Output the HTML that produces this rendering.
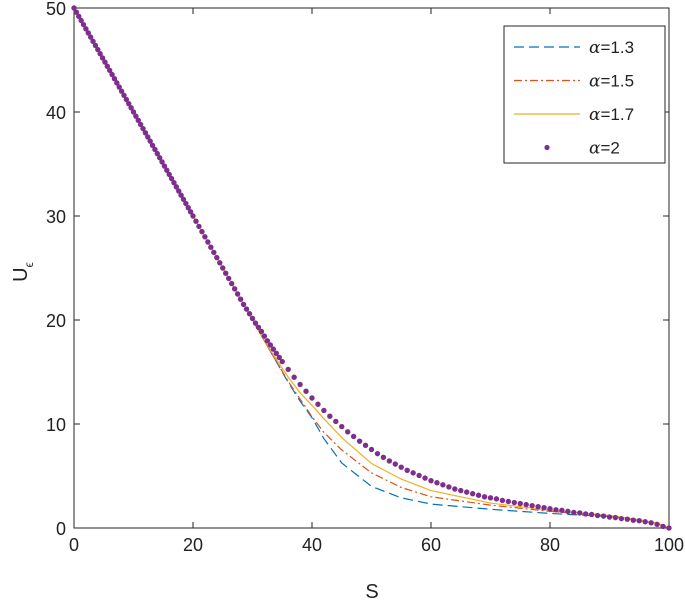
<!DOCTYPE html>
<html><head><meta charset="utf-8"><style>
body{margin:0;background:#fff}
text{font-family:"Liberation Sans",Arial,sans-serif;fill:#222}
</style></head><body>
<svg id="chart" width="685" height="604" xmlns="http://www.w3.org/2000/svg">
<g id="plot"></g>
</svg>
<script>
const sPts=[0,10,20,30,33,36,38,40,42,45,50,55,60,70,80,90,95,98,100];
const u13=[50,40,30,20,17,14,12.2,10.6,8.6,6.25,4.0,2.9,2.3,1.8,1.4,1.1,0.75,0.45,0];
const u15=[50,40,30,20,17,14.1,12.4,10.7,9.2,7.5,5.3,3.9,3.0,2.2,1.6,1.15,0.75,0.45,0];
const u17=[50,40,30,20,17.1,14.5,13.0,11.8,10.5,8.7,6.2,4.7,3.6,2.4,1.7,1.2,0.8,0.45,0];
const s2=[0,0.4,0.8,1.2,1.6,2,2.4,2.8,3.2,3.6,4,4.4,4.8,5.2,5.6,6,6.4,6.8,7.2,7.6,8,8.4,8.8,9.2,9.6,10,10.4,10.8,11.2,11.6,12,12.4,12.8,13.2,13.6,14,14.4,14.8,15.2,15.6,16,16.4,16.8,17.2,17.6,18,18.4,18.8,19.2,19.6,20,20.5,21,21.5,22,22.5,23,23.5,24,24.5,25,25.5,26,26.5,27,27.5,28,28.5,29,29.5,30,30.5,31,31.5,32,32.5,33,33.5,34,34.5,35,36,37,38,39,40,41,42,43,44,45,46,47,48,49,50,51,52,53,54,55,56,57,58,59,60,61,62,63,64,65,66,67,68,69,70,71,72,73,74,75,76,77,78,79,80,81,82,83,84,85,86,87,88,89,90,91,92,93,94,95,96,97,98,99,100];
const u2=[50,49.6,49.2,48.8,48.4,48,47.6,47.2,46.8,46.4,46,45.6,45.2,44.8,44.4,44,43.6,43.2,42.8,42.4,42,41.6,41.2,40.8,40.4,40,39.6,39.2,38.8,38.4,38,37.6,37.2,36.8,36.4,36,35.6,35.2,34.8,34.4,34,33.6,33.2,32.8,32.4,32,31.6,31.2,30.8,30.4,30,29.5,29,28.5,28,27.5,27,26.5,26,25.5,25,24.5,24,23.5,23,22.5,22,21.5,21.05,20.6,20.15,19.7,19.3,18.9,18.45,18.0,17.6,17.2,16.8,16.4,16.0,15.25,14.5,13.8,13.15,12.5,11.9,11.3,10.75,10.25,9.75,9.25,8.8,8.35,7.95,7.55,7.15,6.8,6.45,6.15,5.85,5.55,5.3,5.05,4.8,4.55,4.35,4.15,3.95,3.75,3.6,3.45,3.3,3.15,3.0,2.9,2.8,2.65,2.55,2.45,2.35,2.25,2.15,2.05,1.95,1.85,1.75,1.7,1.6,1.5,1.45,1.35,1.3,1.2,1.15,1.05,1.0,0.9,0.85,0.75,0.7,0.6,0.5,0.35,0.15,0];
const xTicks=[0,20,40,60,80,100];
const yTicks=[0,10,20,30,40,50];
const legendLabels=["1.3","1.5","1.7","2"];

const L=74,R=669,T=8,B=528;
const xs=v=>L+(v-0)/(100)*(R-L);
const ys=v=>B-(v/50)*(B-T);
const NS="http://www.w3.org/2000/svg";
const g=document.getElementById('plot');
function el(tag,attrs,parent){const e=document.createElementNS(NS,tag);for(const k in attrs)e.setAttribute(k,attrs[k]);(parent||g).appendChild(e);return e;}

const frame=el('rect',{x:L,y:T,width:R-L,height:B-T,fill:'none',stroke:'#262626','stroke-width':1});


xTicks.forEach(v=>{
  const x=xs(v);
  const t=el('line',{x1:x,x2:x,y1:B,y2:B-6,stroke:'#262626'});
  
  
  el('line',{x1:x,x2:x,y1:T,y2:T+6,stroke:'#262626'});
  const tx=el('text',{x:x,y:B+23,'text-anchor':'middle','font-size':18});
  tx.textContent=v;
  
  
});
yTicks.forEach(v=>{
  const y=ys(v);
  const t=el('line',{x1:L,x2:L+6,y1:y,y2:y,stroke:'#262626'});
  
  
  el('line',{x1:R,x2:R-6,y1:y,y2:y,stroke:'#262626'});
  const tx=el('text',{x:L-8,y:y+7,'text-anchor':'end','font-size':18});
  tx.textContent=v;
  
  
});
const xl=el('text',{x:372,y:598,'text-anchor':'middle','font-size':20});
xl.textContent='S';


const yl=el('text',{transform:'translate(27,272) rotate(-90)','text-anchor':'middle','font-size':20});
yl.innerHTML='U<tspan font-size="12" dy="6">ϵ</tspan>';



function pathD(xv,yv){return xv.map((v,i)=>(i?'L':'M')+xs(v).toFixed(2)+','+ys(yv[i]).toFixed(2)).join('');}
const styles=[
 {c:'#0072BD',d:'10,5',name:'line-alpha-1.3',data:u13},
 {c:'#D95319',d:'8,3,2,3',name:'line-alpha-1.5',data:u15},
 {c:'#EDB120',d:'',name:'line-alpha-1.7',data:u17}];
styles.forEach(s=>{
  const p=el('path',{d:pathD(sPts,s.data),fill:'none',stroke:s.c,'stroke-width':1.2,'stroke-dasharray':s.d});
  
  
});
u2.forEach((v,i)=>{
  const c=el('circle',{cx:xs(s2[i]),cy:ys(v),r:2.7,fill:'#7E2F8E'});
  
  
});
// legend
const lg=el('g',{});


el('rect',{x:504,y:26,width:161,height:137,fill:'#fff',stroke:'#262626'},lg);
const colors=['#0072BD','#D95319','#EDB120','#7E2F8E'];
const dashes=['10,5','8,3,2,3','',''];
legendLabels.forEach((lab,i)=>{
  const y=47+i*33.5;
  const e=el('g',{},lg);
  
  
  if(i<3) el('line',{x1:514,x2:580,y1:y,y2:y,stroke:colors[i],'stroke-width':1.2,'stroke-dasharray':dashes[i]},e);
  else el('circle',{cx:547,cy:y,r:2.6,fill:colors[i]},e);
  const t=el('text',{x:589,y:y+6,'font-size':17},e);
  t.innerHTML='<tspan font-family="DejaVu Serif" font-style="italic">α</tspan>='+lab;
});
</script>
</body></html>
